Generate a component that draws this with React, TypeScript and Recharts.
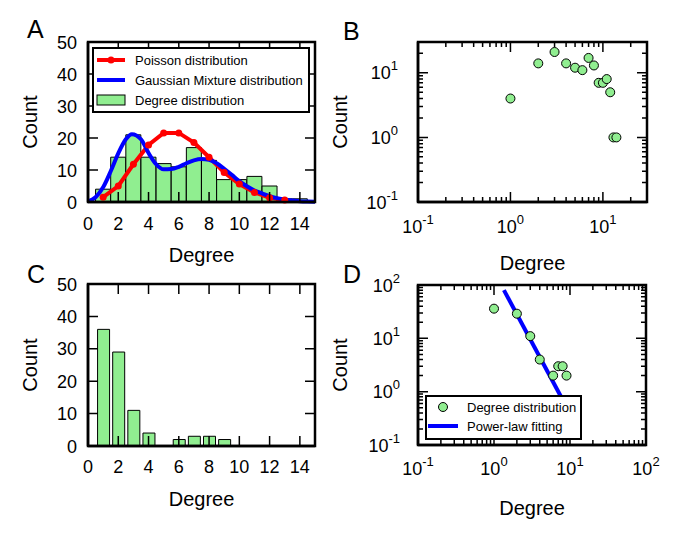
import React from 'react';
import { ComposedChart, Bar, Line, Scatter, XAxis, YAxis, Legend } from 'recharts';

const FONT = '"Liberation Sans", Arial, Helvetica, sans-serif';
const GREEN = '#90EE90';

// ---------- Data ----------
// Panels A / B: degree distribution
const degreesAB = [1, 2, 3, 4, 5, 6, 7, 8, 9, 10, 11, 12, 13, 14];
const countsAB = [4, 14, 21, 14, 12, 11, 17, 13, 7, 7, 8, 5, 1, 1];

// Poisson fit (panel A)
const poissonX = [1, 2, 3, 4, 5, 6, 7, 8, 9, 10, 11, 12, 13];
const poissonY = [1.5, 5, 11.8, 17.8, 21.6, 21.6, 18.6, 14, 9.2, 5.6, 3, 1.3, 0.6];

// Gaussian mixture fit (panel A)
const gmmX = [0, 0.5, 1, 1.5, 2, 2.5, 2.9, 3.5, 4, 4.5, 5, 5.5, 6, 6.5, 7, 7.5, 8, 8.5, 9, 9.5, 10, 10.5, 11, 11.5, 12, 12.5, 13, 13.5, 14, 14.5, 15];
const gmmY = [0.2, 1.5, 4.6, 9.6, 15.2, 19.6, 21.2, 19.6, 15.3, 11.8, 10.2, 10.3, 11.0, 12.1, 13.0, 13.4, 13.2, 12.1, 10.4, 8.5, 6.5, 4.9, 3.6, 2.7, 1.8, 1.2, 0.8, 0.45, 0.25, 0.15, 0.1];

// Panels C / D: degree distribution
const degreesCD = [1, 2, 3, 4, 6, 7, 8, 9];
const countsCD = [36, 29, 11, 4, 2, 3, 3, 2];

// Power-law fit (panel D)
const fitX = [1.35, 8.5];
const fitY = [80, 0.6];

// Axis domains and tick values
const linDomX = [0, 15];
const linDomY = [0, 50];
const logDomB = [0.1, 30];
const logDomD = [0.1, 100];
const linTicksX = [0, 2, 4, 6, 8, 10, 12, 14];
const linTicksY = [0, 10, 20, 30, 40, 50];
const logTicks = (min: number, max: number) => {
  const out: number[] = [];
  for (let e = -1; e <= 2; e++) {
    for (let m = 1; m <= 9; m++) {
      const v = Number((m * Math.pow(10, e)).toPrecision(3));
      if (v >= min - 1e-9 && v <= max + 1e-9) out.push(v);
    }
  }
  return out;
};
const ticksB = logTicks(logDomB[0], logDomB[1]);
const ticksD = logTicks(logDomD[0], logDomD[1]);

const histAB = degreesAB.map((d, i) => ({ x: d, count: countsAB[i] }));
const poissonData = poissonX.map((d, i) => ({ x: d, p: poissonY[i] }));
const gmmData = gmmX.map((d, i) => ({ x: d, g: gmmY[i] }));
const scatterB = degreesAB.map((d, i) => ({ x: d, y: countsAB[i] }));
const histCD = degreesCD.map((d, i) => ({ x: d, count: countsCD[i] }));
const scatterD = degreesCD.map((d, i) => ({ x: d, y: countsCD[i] }));
const fitData = fitX.map((d, i) => ({ x: d, y: fitY[i] }));

// ---------- Layout ----------
type Box = { left: number; top: number; w: number; h: number };
type Plot = { l: number; t: number; r: number; b: number };
const YW = 60;
const XH = 40;
const marginOf = (box: Box, p: Plot) => ({
  top: p.t - box.top,
  left: p.l - box.left - YW,
  right: box.left + box.w - p.r,
  bottom: box.top + box.h - p.b - XH,
});
const boxA: Box = { left: 0, top: 0, w: 330, h: 290 };
const plotA: Plot = { l: 88, t: 42, r: 315, b: 202 };
const boxB: Box = { left: 320, top: 0, w: 365, h: 290 };
const plotB: Plot = { l: 418, t: 42, r: 647, b: 202 };
const boxC: Box = { left: 0, top: 270, w: 330, h: 269 };
const plotC: Plot = { l: 88, t: 284, r: 315, b: 446 };
const boxD: Box = { left: 320, top: 270, w: 365, h: 269 };
const plotD: Plot = { l: 418, t: 285, r: 646, b: 445 };

// ---------- Helpers ----------
const isMajor = (v: number) => Math.abs(Math.log10(v) - Math.round(Math.log10(v))) < 1e-6;
const FRAME_W = 2.5;
const TICK_W = 1.5;
const axisLine = { stroke: '#000', strokeWidth: FRAME_W };

const expLabel = (v: number) => [
  <tspan key="b">10</tspan>,
  <tspan key="e" dy={-9} fontSize={13}>{String(Math.round(Math.log10(v)))}</tspan>,
];

function bottomLabel(log: boolean, gap: number) {
  return (props: any) => {
    const v = Number(props.payload.value);
    if (log && !isMajor(v)) return <g />;
    return (
      <text x={props.x} y={Number(props.y) + gap} textAnchor="middle" fontSize={18} fontFamily={FONT} fill="#000">
        {log ? expLabel(v) : String(v)}
      </text>
    );
  };
}
function leftLabel(log: boolean, gap: number) {
  return (props: any) => {
    const v = Number(props.payload.value);
    if (log && !isMajor(v)) return <g />;
    return (
      <text x={Number(props.x) - gap} y={Number(props.y) + 6.5} textAnchor="end" fontSize={18} fontFamily={FONT} fill="#000">
        {log ? expLabel(v) : String(v)}
      </text>
    );
  };
}

// Axes frame with inward ticks on all four sides (decoration over each plot area)
function Frame({ plot, xs, ys, xDom, yDom, log }: { plot: Plot; xs: number[]; ys: number[]; xDom: number[]; yDom: number[]; log: boolean }) {
  const f = (v: number) => (log ? Math.log10(v) : v);
  const px = (v: number) => plot.l + ((f(v) - f(xDom[0])) / (f(xDom[1]) - f(xDom[0]))) * (plot.r - plot.l);
  const py = (v: number) => plot.b - ((f(v) - f(yDom[0])) / (f(yDom[1]) - f(yDom[0]))) * (plot.b - plot.t);
  const len = (v: number) => (log && !isMajor(v) ? 5 : 10);
  let d = '';
  xs.forEach((v) => {
    const x = px(v);
    d += `M${x},${plot.b}L${x},${plot.b - len(v)}M${x},${plot.t}L${x},${plot.t + len(v)}`;
  });
  ys.forEach((v) => {
    const y = py(v);
    d += `M${plot.l},${y}L${plot.l + len(v)},${y}M${plot.r},${y}L${plot.r - len(v)},${y}`;
  });
  return (
    <g>
      <path d={d} stroke="#000" strokeWidth={TICK_W} fill="none" />
      <rect x={plot.l} y={plot.t} width={plot.r - plot.l} height={plot.b - plot.t} fill="none" stroke="#000" strokeWidth={FRAME_W} />
    </g>
  );
}

const xTitle = (offset: number) => (props: any) => {
  const vb = props.viewBox || {};
  return (
    <text x={vb.x + vb.width / 2} y={vb.y + offset} textAnchor="middle" fontSize={20} fontFamily={FONT} fill="#000">
      Degree
    </text>
  );
};
const yTitle = (offset: number) => (props: any) => {
  const vb = props.viewBox || {};
  const px = vb.x + vb.width - offset;
  const cy = vb.y + vb.height / 2;
  return (
    <text x={px} y={cy} transform={`rotate(-90 ${px} ${cy})`} textAnchor="middle" fontSize={20} fontFamily={FONT} fill="#000">
      Count
    </text>
  );
};

function LegendA() {
  return (
    <svg width={218} height={66} style={{ display: 'block' }}>
      <rect x={1} y={1} width={216} height={64} fill="#fff" stroke="#000" strokeWidth={2} />
      <line x1={5} y1={13} x2={33} y2={13} stroke="#ff0000" strokeWidth={4} />
      <circle cx={19} cy={13} r={3.5} fill="#ff0000" />
      <text x={43} y={17.5} fontSize={13} fontFamily={FONT} fill="#000">Poisson distribution</text>
      <line x1={5} y1={33} x2={33} y2={33} stroke="#0000ff" strokeWidth={4} />
      <text x={43} y={37.5} fontSize={13} fontFamily={FONT} fill="#000">Gaussian Mixture distribution</text>
      <rect x={5} y={48} width={28} height={10} fill={GREEN} stroke="#000" strokeWidth={1} />
      <text x={43} y={57.5} fontSize={13} fontFamily={FONT} fill="#000">Degree distribution</text>
    </svg>
  );
}

function LegendD() {
  return (
    <svg width={157} height={45} style={{ display: 'block' }}>
      <rect x={1} y={1} width={155} height={43} fill="#fff" stroke="#000" strokeWidth={2} />
      <circle cx={18} cy={12} r={4.5} fill={GREEN} stroke="#000" strokeWidth={1} />
      <text x={42} y={16.5} fontSize={13} fontFamily={FONT} fill="#000">Degree distribution</text>
      <line x1={3} y1={31} x2={33} y2={31} stroke="#0000ff" strokeWidth={4} />
      <text x={42} y={35.5} fontSize={13} fontFamily={FONT} fill="#000">Power-law fitting</text>
    </svg>
  );
}

const Dot = (props: any) => (
  <circle cx={props.cx} cy={props.cy} r={4.5} fill={GREEN} stroke="#000" strokeWidth={1} />
);

export default function App() {
  return (
    <div style={{ position: 'absolute', left: 0, top: 0, width: 685, height: 539, background: '#fff', fontFamily: FONT, overflow: 'hidden' }}>
      {/* Panel A */}
      <div style={{ position: 'absolute', left: boxA.left, top: boxA.top }}>
        <ComposedChart width={boxA.w} height={boxA.h} data={histAB} margin={marginOf(boxA, plotA)}>
          <XAxis xAxisId="b" dataKey="x" type="number" domain={linDomX} ticks={linTicksX} interval={0}
            height={XH} tickSize={0} tickMargin={0} tickLine={false} axisLine={axisLine}
            tick={bottomLabel(false, 28)} label={xTitle(60)} />
          <XAxis xAxisId="t" hide dataKey="x" type="number" domain={linDomX} />
          <YAxis yAxisId="l" type="number" domain={linDomY} ticks={linTicksY} interval={0}
            width={YW} tickSize={0} tickMargin={0} tickLine={false} axisLine={axisLine}
            tick={leftLabel(false, 11)} label={yTitle(51)} />
          <Bar xAxisId="b" yAxisId="l" dataKey="count" barSize={15} fill={GREEN} stroke="#000" strokeWidth={1} isAnimationActive={false} />
          <Line xAxisId="t" yAxisId="l" data={poissonData} dataKey="p" type="linear" stroke="#ff0000" strokeWidth={4}
            dot={{ r: 3.5, fill: '#ff0000', stroke: '#ff0000', strokeWidth: 0 }} isAnimationActive={false} />
          <Line xAxisId="t" yAxisId="l" data={gmmData} dataKey="g" type="monotone" stroke="#0000ff" strokeWidth={4}
            dot={false} isAnimationActive={false} />
          <Legend layout="vertical" align="center" verticalAlign="middle" content={() => <LegendA />}
            wrapperStyle={{ left: 92, top: 47, width: 218, height: 66 }} />
        </ComposedChart>
      </div>

      {/* Panel B */}
      <div style={{ position: 'absolute', left: boxB.left, top: boxB.top }}>
        <ComposedChart width={boxB.w} height={boxB.h} margin={marginOf(boxB, plotB)}>
          <XAxis xAxisId="b" dataKey="x" type="number" scale="log" domain={logDomB} ticks={ticksB} interval={0}
            height={XH} tickSize={0} tickMargin={0} tickLine={false} axisLine={axisLine}
            tick={bottomLabel(true, 31)} label={xTitle(68)} />
          <YAxis yAxisId="l" dataKey="y" type="number" scale="log" domain={logDomB} ticks={ticksB} interval={0}
            width={YW} tickSize={0} tickMargin={0} tickLine={false} axisLine={axisLine}
            tick={leftLabel(true, 20)} label={yTitle(71)} />
          <Scatter xAxisId="b" yAxisId="l" data={scatterB} shape={Dot} isAnimationActive={false} />
        </ComposedChart>
      </div>

      {/* Panel C */}
      <div style={{ position: 'absolute', left: boxC.left, top: boxC.top }}>
        <ComposedChart width={boxC.w} height={boxC.h} data={histCD} margin={marginOf(boxC, plotC)}>
          <XAxis xAxisId="b" dataKey="x" type="number" domain={linDomX} ticks={linTicksX} interval={0}
            height={XH} tickSize={0} tickMargin={0} tickLine={false} axisLine={axisLine}
            tick={bottomLabel(false, 27)} label={xTitle(60)} />
          <YAxis yAxisId="l" type="number" domain={linDomY} ticks={linTicksY} interval={0}
            width={YW} tickSize={0} tickMargin={0} tickLine={false} axisLine={axisLine}
            tick={leftLabel(false, 11)} label={yTitle(51)} />
          <Bar xAxisId="b" yAxisId="l" dataKey="count" barSize={12} fill={GREEN} stroke="#000" strokeWidth={1} isAnimationActive={false} />
        </ComposedChart>
      </div>

      {/* Panel D */}
      <div style={{ position: 'absolute', left: boxD.left, top: boxD.top }}>
        <ComposedChart width={boxD.w} height={boxD.h} margin={marginOf(boxD, plotD)}>
          <XAxis xAxisId="b" dataKey="x" type="number" scale="log" domain={logDomD} ticks={ticksD} interval={0}
            height={XH} tickSize={0} tickMargin={0} tickLine={false} axisLine={axisLine}
            tick={bottomLabel(true, 30)} label={xTitle(70)} />
          <YAxis yAxisId="l" dataKey="y" type="number" scale="log" domain={logDomD} ticks={ticksD} interval={0}
            width={YW} tickSize={0} tickMargin={0} tickLine={false} axisLine={axisLine}
            tick={leftLabel(true, 18)} label={yTitle(71)} />
          <Line xAxisId="b" yAxisId="l" data={fitData} dataKey="y" type="linear" stroke="#0000ff" strokeWidth={4} dot={false} isAnimationActive={false} />
          <Scatter xAxisId="b" yAxisId="l" data={scatterD} shape={Dot} isAnimationActive={false} />
        </ComposedChart>
      </div>

      {/* Axis frames with inward ticks, panel letters */}
      <svg width={685} height={539} style={{ position: 'absolute', left: 0, top: 0, pointerEvents: 'none' }}>
        <Frame plot={plotA} xs={linTicksX} ys={linTicksY} xDom={linDomX} yDom={linDomY} log={false} />
        <Frame plot={plotB} xs={ticksB} ys={ticksB} xDom={logDomB} yDom={logDomB} log={true} />
        <Frame plot={plotC} xs={linTicksX} ys={linTicksY} xDom={linDomX} yDom={linDomY} log={false} />
        <Frame plot={plotD} xs={ticksD} ys={ticksD} xDom={logDomD} yDom={logDomD} log={true} />
        <text x={27} y={38} fontSize={25} fontFamily={FONT} fill="#000">A</text>
        <text x={343} y={40} fontSize={25} fontFamily={FONT} fill="#000">B</text>
        <text x={27} y={283} fontSize={25} fontFamily={FONT} fill="#000">C</text>
        <text x={343} y={283} fontSize={25} fontFamily={FONT} fill="#000">D</text>
      </svg>

      {/* Legends drawn above the frames, as in the reference */}
      <div style={{ position: 'absolute', left: 92, top: 47 }}>
        <LegendA />
      </div>
      <div style={{ position: 'absolute', left: 425, top: 395 }}>
        <LegendD />
      </div>
    </div>
  );
}
